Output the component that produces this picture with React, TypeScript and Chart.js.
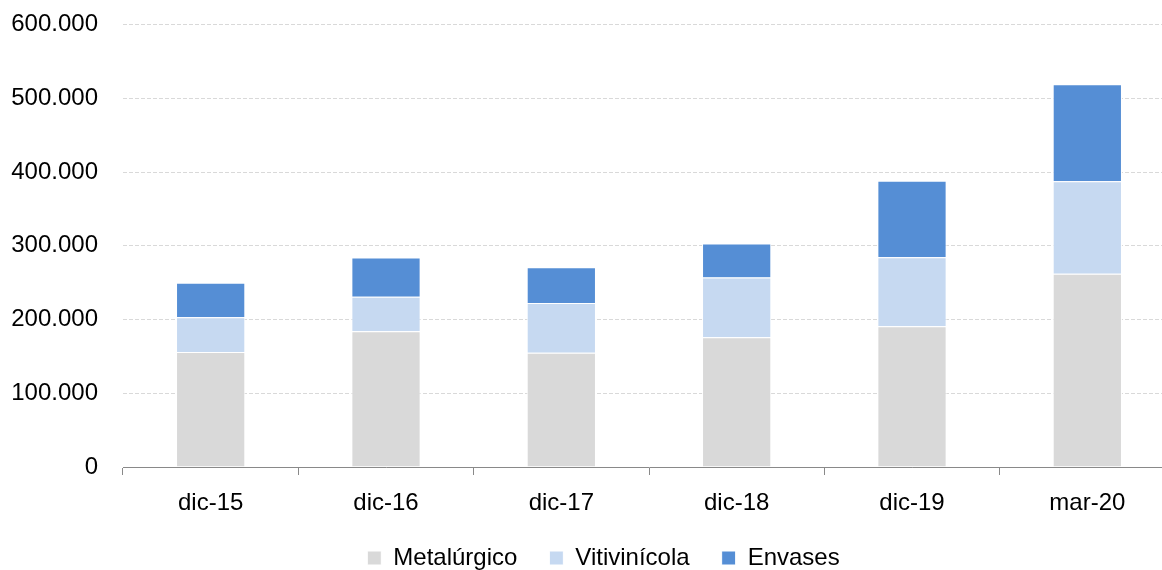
import React, { useEffect, useRef } from "react";
import { Chart, registerables } from "chart.js";

Chart.register(...registerables);

const categories = ["dic-15", "dic-16", "dic-17", "dic-18", "dic-19", "mar-20"];
const metalurgico = [156000, 184000, 155000, 176000, 191000, 262000];
const vitivinicola = [47000, 47000, 67500, 81000, 93500, 125500];
const envases = [47000, 53000, 48500, 46000, 103500, 131500];
const yTicks = [0, 100000, 200000, 300000, 400000, 500000, 600000];

const fmt = (v: number) => String(Math.round(v)).replace(/\B(?=(\d{3})+(?!\d))/g, ".");

const legendShift = {
  id: "legendShift",
  afterLayout(chart: any) {
    const lg = chart.legend;
    if (lg) {
      lg.left += 11;
      lg.right += 11;
    }
  },
};

export default function App() {
  const ref = useRef<HTMLCanvasElement | null>(null);

  useEffect(() => {
    if (!ref.current) return;
    const font = { family: "'Liberation Sans', Arial, sans-serif", size: 24 };
    const chart = new Chart(ref.current, {
      type: "bar",
      data: {
        labels: categories,
        datasets: [
          { label: "Metalúrgico", data: metalurgico, backgroundColor: "#d9d9d9", borderColor: "#ffffff", borderWidth: 1 },
          { label: "Vitivinícola", data: vitivinicola, backgroundColor: "#c6d9f1", borderColor: "#ffffff", borderWidth: 1 },
          { label: "Envases", data: envases, backgroundColor: "#558ed5", borderColor: "#ffffff", borderWidth: 1 },
        ],
      },
      plugins: [legendShift],
      options: {
        animation: false,
        responsive: true,
        maintainAspectRatio: false,
        layout: { padding: { left: 10, top: 24.5, right: 0, bottom: -10 } },
        datasets: { bar: { categoryPercentage: 1, barPercentage: 0.395 } },
        plugins: {
          tooltip: { enabled: false },
          legend: {
            position: "bottom",
            labels: {
              font,
              color: "#000000",
              boxWidth: 14,
              boxHeight: 14,
              padding: 32,
            },
          },
        },
        scales: {
          x: {
            stacked: true,
            offset: true,
            afterFit: (scale: any) => {
              scale.height = 47;
            },
            grid: { display: true, drawOnChartArea: false, drawTicks: true, tickLength: 8, color: "#898989", offset: true },
            border: { display: true, color: "#898989", width: 1 },
            ticks: { font, color: "#000000", padding: 14 },
          },
          y: {
            stacked: true,
            min: 0,
            max: 600000,
            afterBuildTicks: (scale: any) => {
              scale.ticks = yTicks.map((v) => ({ value: v }));
            },
            afterFit: (scale: any) => {
              scale.width = 113;
              scale.paddingTop = 0;
              scale.paddingBottom = 0;
            },
            grid: { color: "#d9d9d9", lineWidth: 1, drawTicks: false },
            border: { display: false, dash: [4, 2] },
            ticks: {
              font,
              color: "#000000",
              padding: 25,
              callback: (v: any) => fmt(Number(v)),
            },
          },
        },
      },
    });
    return () => chart.destroy();
  }, []);

  return (
    <div style={{ position: "fixed", left: 0, top: 0, width: 1162, height: 570, overflow: "hidden", background: "#fff" }}>
      <div style={{ position: "relative", width: 1175, height: 570 }}>
        <canvas ref={ref} />
      </div>
    </div>
  );
}
